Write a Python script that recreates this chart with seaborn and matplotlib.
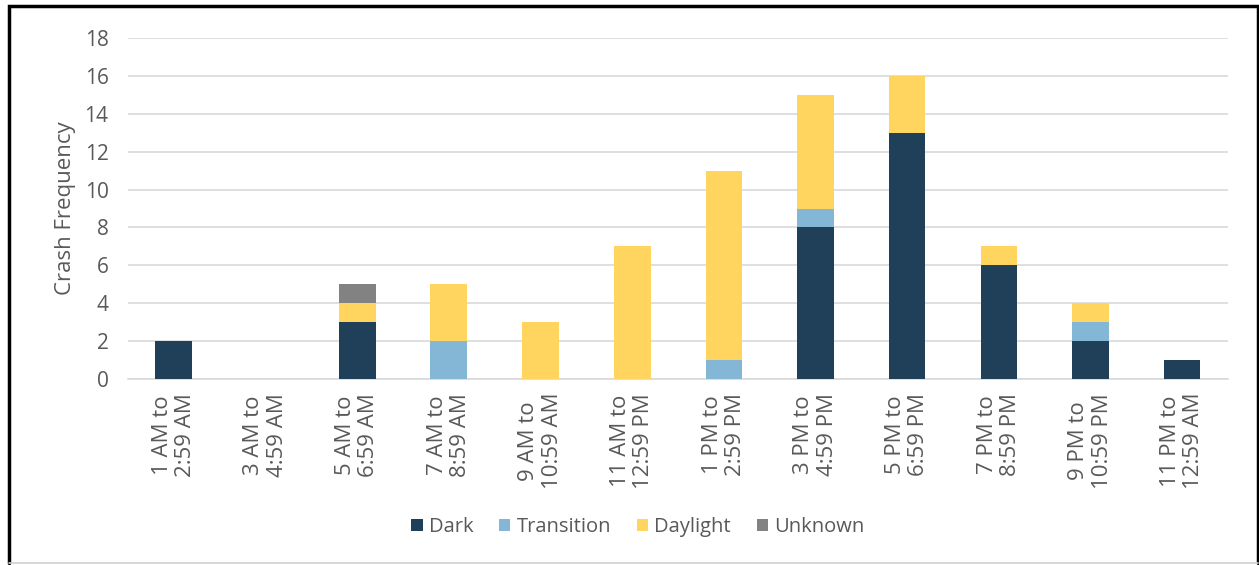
import matplotlib
matplotlib.use("Agg")
import matplotlib.pyplot as plt
import seaborn as sns
import numpy as np
import pandas as pd
from matplotlib.patches import Patch
from matplotlib.lines import Line2D

categories = [
    "1 AM to\n2:59 AM", "3 AM to\n4:59 AM", "5 AM to\n6:59 AM", "7 AM to\n8:59 AM",
    "9 AM to\n10:59 AM", "11 AM to\n12:59 PM", "1 PM to\n2:59 PM", "3 PM to\n4:59 PM",
    "5 PM to\n6:59 PM", "7 PM to\n8:59 PM", "9 PM to\n10:59 PM", "11 PM to\n12:59 AM",
]
dark = [2, 0, 3, 0, 0, 0, 0, 8, 13, 6, 2, 1]
transition = [0, 0, 0, 2, 0, 0, 1, 1, 0, 0, 1, 0]
daylight = [0, 0, 1, 3, 3, 7, 10, 6, 3, 1, 1, 0]
unknown = [0, 0, 1, 0, 0, 0, 0, 0, 0, 0, 0, 0]

series_names = ["Dark", "Transition", "Daylight", "Unknown"]
colors = ["#1F4058", "#84B6D6", "#FFD560", "#828282"]

sns.set_theme(style="white")
plt.rcParams["font.family"] = ["Open Sans", "DejaVu Sans"]
text_color = "#595959"

W, H = 1259, 565
fig = plt.figure(figsize=(W / 100, H / 100), dpi=100)
ax = fig.add_axes([128 / W, 1 - 379 / H, 1100 / W, 341 / H])

df = pd.DataFrame({"cat": categories, "Dark": dark, "Transition": transition,
                   "Daylight": daylight, "Unknown": unknown})
bottom = np.zeros(len(categories))
for name, col in zip(series_names, colors):
    sns.barplot(data=df, x="cat", y=name, bottom=bottom, color=col, width=0.4,
                saturation=1, ax=ax, zorder=3, linewidth=0)
    bottom = bottom + df[name].to_numpy()

ax.set_ylim(0, 18)
ax.set_yticks(range(0, 19, 2))
ax.set_xlim(-0.5, len(categories) - 0.5)
ax.yaxis.grid(True, color="#D9D9D9", linewidth=1.2, zorder=0)
ax.set_axisbelow(True)
for s in ["top", "right", "left"]:
    ax.spines[s].set_visible(False)
ax.spines["bottom"].set_color("#D9D9D9")
ax.spines["bottom"].set_linewidth(1.2)

ax.set_xlabel("")
ax.set_ylabel("Crash Frequency", fontsize=16, color=text_color, labelpad=6)
ax.tick_params(axis="y", labelsize=15, colors=text_color, length=0, pad=14)
ax.tick_params(axis="x", labelsize=16, colors=text_color, length=0, pad=10)
ax.set_xticks(range(len(categories)))
ax.set_xticklabels(categories, rotation=90, ha="center", va="top", multialignment="center",
                   linespacing=1.15)

handles = [Patch(facecolor=c, edgecolor="none") for c in colors]
fig.legend(handles, series_names, loc="center", bbox_to_anchor=(638 / W, 1 - 527 / H),
           ncol=4, frameon=False, fontsize=14.5, labelcolor=text_color,
           handlelength=0.55, handleheight=0.55, handletextpad=0.3, columnspacing=1.3)

# chart frame: dark on left, top and right, light rule along the bottom
left, right, top, bot = 9 / W, 1257.5 / W, 1 - 5.5 / H, 1 - 562.5 / H
fig.add_artist(Line2D([left, left, right, right], [bot, top, top, bot],
                      transform=fig.transFigure, color="black", linewidth=2.5,
                      solid_joinstyle="miter"))
fig.add_artist(Line2D([left, right], [bot, bot], transform=fig.transFigure,
                      color="#D0D0D0", linewidth=1.2))

fig.savefig("out.png", dpi=100)
